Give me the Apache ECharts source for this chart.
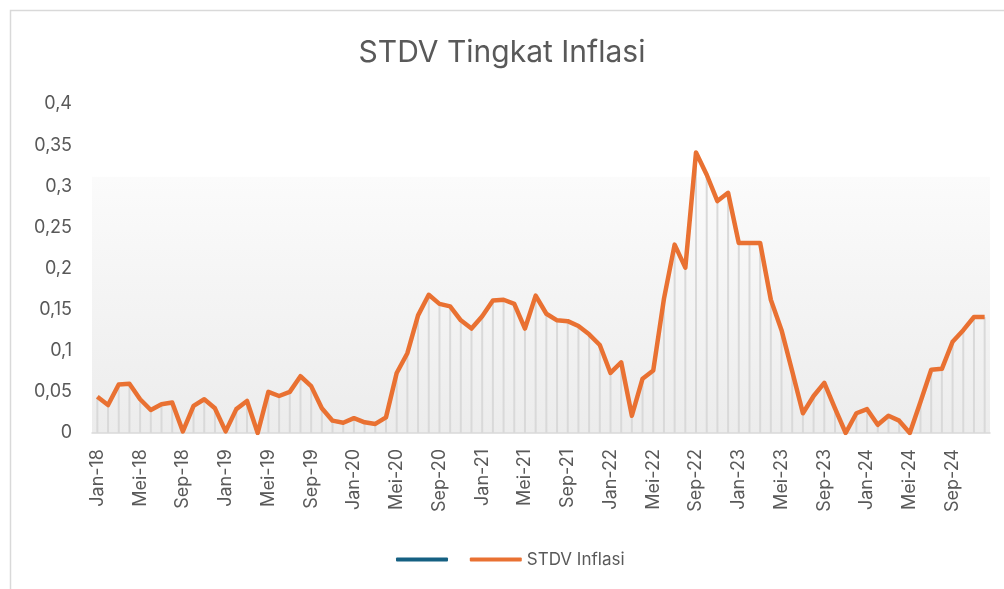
<!DOCTYPE html>
<html>
<head>
<meta charset="utf-8">
<script src="https://cdn.jsdelivr.net/npm/echarts@6/dist/echarts.min.js"></script>
<style>
  html, body { margin: 0; padding: 0; background: #fff; }
  #chart { width: 1004px; height: 589px; }
</style>
</head>
<body>
<div id="chart"></div>
<script>
var bulan = ['Jan', 'Feb', 'Mar', 'Apr', 'Mei', 'Jun', 'Jul', 'Agu', 'Sep', 'Okt', 'Nov', 'Des'];
var tahun = ['18', '19', '20', '21', '22', '23', '24'];

// STDV inflasi per bulan, Jan-18 s/d Des-24
var stdvInflasi = [
  0.044, 0.034, 0.059, 0.060, 0.041, 0.028, 0.035, 0.037, 0.002, 0.033, 0.041, 0.030,
  0.002, 0.029, 0.039, 0.000, 0.050, 0.045, 0.050, 0.069, 0.057, 0.030, 0.015, 0.0125,
  0.018, 0.013, 0.011, 0.019, 0.073, 0.097, 0.143, 0.168, 0.157, 0.154, 0.137, 0.127,
  0.142, 0.161, 0.162, 0.157, 0.127, 0.167, 0.145, 0.137, 0.136, 0.130, 0.120, 0.107,
  0.073, 0.086, 0.021, 0.066, 0.076, 0.163, 0.229, 0.201, 0.341, 0.314, 0.282, 0.292,
  0.231, 0.231, 0.231, 0.162, 0.125, 0.075, 0.024, 0.045, 0.061, 0.030, 0.000, 0.024,
  0.029, 0.010, 0.021, 0.015, 0.000, 0.038, 0.077, 0.078, 0.111, 0.125, 0.141, 0.141
];

var kategori = [];
tahun.forEach(function (t) {
  bulan.forEach(function (b) { kategori.push(b + '-' + t); });
});

var warnaTeks = '#595959';
var huruf = 'Inter, "Open Sans", sans-serif';

var chartDom = document.getElementById('chart');
var myChart = echarts.init(chartDom);

var option = {
  animation: false,
  textStyle: { fontFamily: huruf },
  graphic: [{
    type: 'rect',
    shape: { x: 10.5, y: 10.5, width: 1100, height: 700 },
    style: { fill: 'none', stroke: '#d9d9d9', lineWidth: 1.5 },
    silent: true
  }],
  title: {
    text: 'STDV Tingkat Inflasi',
    left: 'center',
    top: 33,
    textStyle: { color: warnaTeks, fontSize: 30, fontWeight: 'normal', fontFamily: huruf }
  },
  legend: {
    left: 391,
    top: 546,
    itemWidth: 52,
    itemHeight: 4,
    itemGap: 12,
    textStyle: { color: warnaTeks, fontSize: 17, fontFamily: huruf },
    data: [
      { name: ' ', icon: 'roundRect' },
      { name: 'STDV Inflasi', icon: 'roundRect' }
    ]
  },
  grid: {
    left: 92,
    right: 14,
    top: 104,
    bottom: 156,
    show: true,
    borderWidth: 0,
    backgroundColor: {
      type: 'linear', x: 0, y: 0, x2: 0, y2: 1,
      colorStops: [
        { offset: 0, color: '#ffffff' },
        { offset: 0.22, color: '#ffffff' },
        { offset: 0.222, color: '#fbfbfb' },
        { offset: 1, color: '#ececec' }
      ]
    }
  },
  xAxis: {
    type: 'category',
    data: kategori,
    boundaryGap: true,
    axisLine: { lineStyle: { color: '#d9d9d9', width: 1.5 } },
    axisTick: { interval: 3, length: 6, lineStyle: { color: '#d9d9d9', width: 1.5 } },
    axisLabel: {
      interval: 3,
      rotate: 90,
      color: warnaTeks,
      fontSize: 18,
      margin: 16,
      fontFamily: huruf
    }
  },
  yAxis: {
    type: 'value',
    min: 0,
    max: 0.4,
    interval: 0.05,
    splitLine: { show: false },
    axisLine: { show: false },
    axisTick: { show: false },
    axisLabel: {
      color: warnaTeks,
      fontSize: 18,
      margin: 20,
      fontFamily: huruf,
      formatter: function (v) {
        return String(Math.round(v * 100) / 100).replace('.', ',');
      }
    }
  },
  series: [
    {
      name: ' ',
      type: 'line',
      color: '#156082',
      data: []
    },
    {
      name: 'garis jatuh',
      type: 'bar',
      data: stdvInflasi,
      barWidth: 2,
      itemStyle: { color: '#d9d9d9' },
      silent: true,
      z: 1
    },
    {
      name: 'STDV Inflasi',
      type: 'line',
      data: stdvInflasi,
      color: '#E97132',
      symbol: 'none',
      lineStyle: { width: 4.5, color: '#E97132', join: 'round' },
      z: 3
    }
  ]
};

option && myChart.setOption(option);
</script>
</body>
</html>
